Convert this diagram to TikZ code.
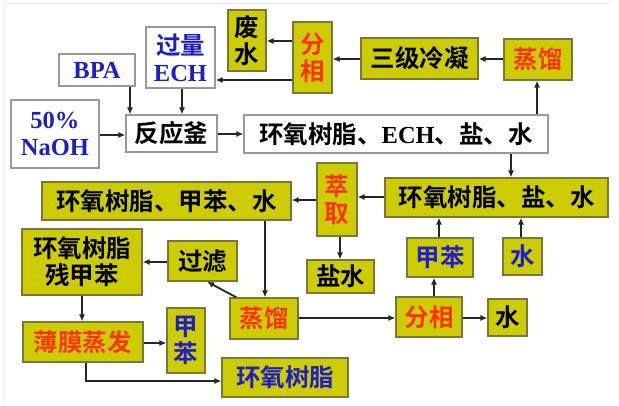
\documentclass[tikz,border=0pt]{standalone}
\usepackage{fontspec}
\usetikzlibrary{arrows.meta}
\newfontfamily\cjk{Noto Sans CJK SC}[BoldFont={Noto Sans CJK SC Bold}]
\newfontfamily\lat{Liberation Serif}
\definecolor{olivefill}{RGB}{204,204,0}
\definecolor{olivedraw}{RGB}{120,120,60}
\definecolor{txtred}{RGB}{255,50,0}
\definecolor{txtblue}{RGB}{30,30,200}
\tikzset{
  x=1pt,y=-1pt,
  ybox/.style={draw=olivedraw,line width=1.2pt,fill=olivefill,inner sep=0pt,align=center,
    font=\cjk\bfseries\fontsize{24.5}{27}\selectfont,text=black},
  wbox/.style={draw=gray!80,line width=1.2pt,fill=white,inner sep=0pt,align=center,
    font=\cjk\bfseries\fontsize{24.5}{27}\selectfont,text=black},
  redt/.style={text=txtred},
  bluet/.style={text=txtblue},
  arr/.style={draw=black!85,line width=1.8pt,-{Latex[length=7pt,width=6pt]}},
}
\begin{document}
\begin{tikzpicture}
\useasboundingbox (0,0) rectangle (619,405);
\draw[gray!15,line width=0.8pt] (4,403) -- (4,3) -- (612,3);
% nodes
\node[ybox,minimum width=38,minimum height=61] (feishui) at (247,40.5) {废\\水};
\node[ybox,redt,minimum width=39,minimum height=71] (fx1) at (312.5,57.5) {分\\相};
\node[wbox,bluet,minimum width=69,minimum height=61] (ech) at (180.5,57.5) {过量\\{\lat\bfseries ECH}};
\node[wbox,bluet,minimum width=76,minimum height=32] (bpa) at (97,70) {\lat\bfseries BPA};
\node[wbox,bluet,minimum width=88,minimum height=68] (naoh) at (55,134) {\lat\bfseries 50\%\\\lat\bfseries NaOH};
\node[wbox,minimum width=91,minimum height=37] (fyf) at (171.5,133.5) {反应釜};
\node[wbox,minimum width=304,minimum height=38] (row1) at (396,134) {环氧树脂、{\lat\bfseries ECH}、盐、水};
\node[ybox,minimum width=117,minimum height=41] (ljln) at (419.5,58.5) {三级冷凝};
\node[ybox,redt,minimum width=68,minimum height=41] (zl1) at (538,59.5) {蒸馏};
\node[ybox,minimum width=223,minimum height=39] (row2) at (496.5,197.5) {环氧树脂、盐、水};
\node[ybox,redt,minimum width=40,minimum height=73] (cq) at (337,199.5) {萃\\取};
\node[ybox,minimum width=249,minimum height=38] (row3) at (166.5,201) {环氧树脂、甲苯、水};
\node[ybox,minimum width=67,minimum height=33] (ys) at (340.5,276.5) {盐水};
\node[ybox,bluet,minimum width=66,minimum height=39] (jb1) at (440,257.5) {甲苯};
\node[ybox,bluet,minimum width=39,minimum height=37] (s1) at (522.5,256.5) {水};
\node[ybox,redt,minimum width=66,minimum height=40] (fx2) at (429,317) {分相};
\node[ybox,minimum width=39,minimum height=37] (s2) at (507.5,317.5) {水};
\node[ybox,redt,minimum width=68,minimum height=41] (zl2) at (264,318.5) {蒸馏};
\node[ybox,minimum width=69,minimum height=40] (gl) at (202.5,261) {过滤};
\node[ybox,minimum width=120,minimum height=66] (cjb) at (82,262) {环氧树脂\\残甲苯};
\node[ybox,redt,minimum width=120,minimum height=40] (bm) at (83,342) {薄膜蒸发};
\node[ybox,bluet,minimum width=38,minimum height=65] (jb2) at (186,340.5) {甲\\苯};
\node[ybox,bluet,minimum width=126,minimum height=39] (hy) at (285,377.5) {环氧树脂};
% arrows
\draw[arr] (fx1.west |- 0,41) -- (feishui.east |- 0,41);
\draw[arr] (fx1.west |- 0,80) -- (ech.east |- 0,80);
\draw[arr] (ljln.west |- 0,59) -- (fx1.east |- 0,59);
\draw[arr] (zl1.west |- 0,59) -- (ljln.east |- 0,59);
\draw[arr] (row1.north -| 537,0) -- (zl1.south -| 537,0);
\draw[arr] (row1.south -| 511,0) -- (row2.north -| 511,0);
\draw[arr] (bpa.south -| 130,0) -- (fyf.north -| 130,0);
\draw[arr] (ech.south -| 182,0) -- (fyf.north -| 182,0);
\draw[arr] (naoh.east |- 0,135) -- (fyf.west |- 0,135);
\draw[arr] (fyf.east |- 0,134) -- (row1.west |- 0,134);
\draw[arr] (row2.west |- 0,197) -- (cq.east |- 0,197);
\draw[arr] (cq.west |- 0,200) -- (row3.east |- 0,200);
\draw[arr] (cq.south -| 340,0) -- (ys.north -| 340,0);
\draw[arr] (jb1.north -| 439,0) -- (row2.south -| 439,0);
\draw[arr] (s1.north -| 521,0) -- (row2.south -| 521,0);
\draw[arr] (fx2.north -| 434,0) -- (jb1.south -| 434,0);
\draw[arr] (fx2.east |- 0,318) -- (s2.west |- 0,318);
\draw[arr] (zl2.east |- 0,318) -- (fx2.west |- 0,318);
\draw[arr] (row3.south -| 265,0) -- (zl2.north -| 265,0);
\draw[arr] ([xshift=7pt]zl2.north west) -- ([xshift=4.5pt]gl.south);
\draw[arr] (gl.west |- 0,262) -- (cjb.east |- 0,262);
\draw[arr] (cjb.south -| 82,0) -- (bm.north -| 82,0);
\draw[arr] (bm.east |- 0,343) -- (jb2.west |- 0,343);
\draw[arr] (bm.south -| 86,0) |- (hy.west |- 0,381);
\end{tikzpicture}
\end{document}
